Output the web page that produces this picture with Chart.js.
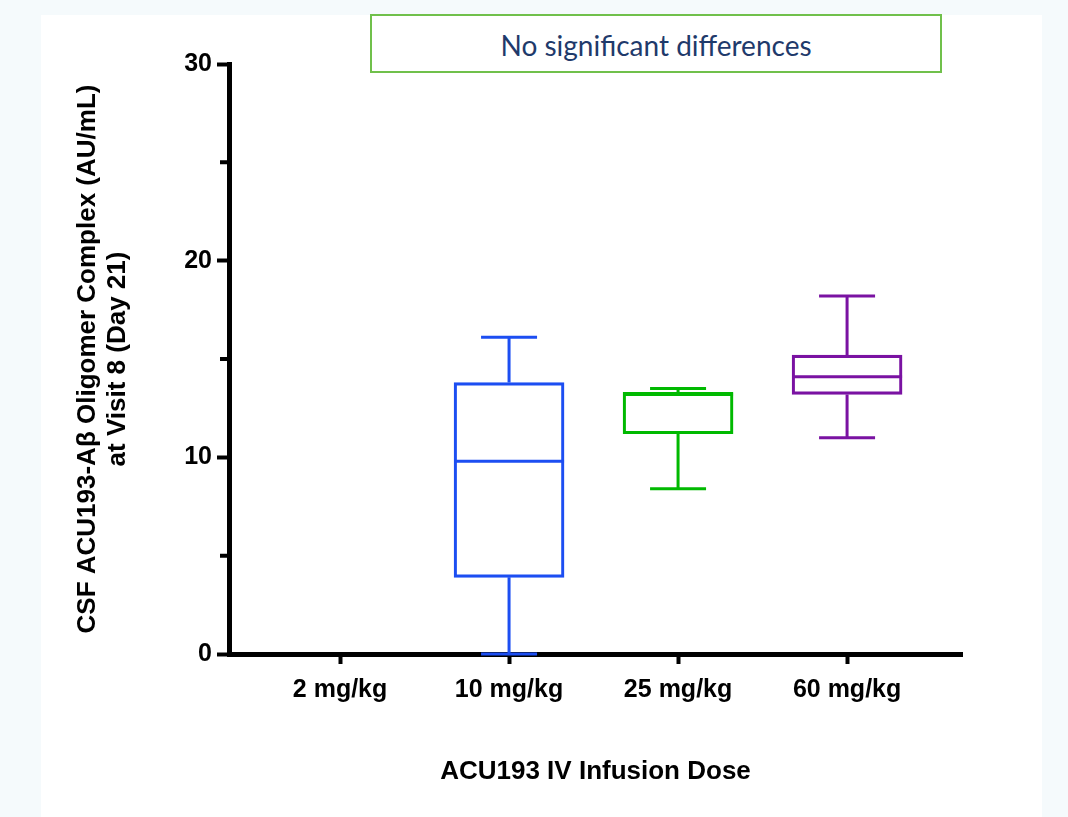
<!DOCTYPE html>
<html>
<head>
    <meta charset="UTF-8">
    <title>CSF ACU193-Aβ Oligomer Complex</title>
    <script src="https://cdn.jsdelivr.net/npm/chart.js@4.4.1/dist/chart.umd.min.js"></script>
    <style type="text/css">
        html, body { margin: 0; padding: 0; }
        body { background: #f5fafc; width: 1068px; height: 817px; position: relative; overflow: hidden; }
        #panel { position: absolute; left: 41px; top: 15px; width: 1001px; height: 802px; background: #ffffff; }
        #chartBox { position: absolute; left: 0; top: 0; width: 1068px; height: 817px; }
        #note {
            position: absolute; left: 370px; top: 14px; width: 568px; height: 55px;
            border: 2px solid #70c04b; background: #ffffff;
            font-family: Lato, "Open Sans", sans-serif; font-size: 28px; color: #1f3a6b;
            text-align: center; line-height: 58px;
        }
    </style>
</head>
<body>
<div id="panel"></div>
<div id="chartBox"><canvas id="boxChart" width="1068" height="817"></canvas></div>
<div id="note">No significant differences</div>

<script>
    // groups on the x axis
    const doses = ['2 mg/kg', '10 mg/kg', '25 mg/kg', '60 mg/kg'];
    // box plot values (no data for 2 mg/kg)
    const mins    = [null, 0.0,  8.4,  11.0];
    const q1s     = [null, 3.9,  11.2, 13.2];
    const medians = [null, 9.8,  13.2, 14.1];
    const q3s     = [null, 13.8, 13.3, 15.2];
    const maxs    = [null, 16.1, 13.5, 18.2];
    const colors  = ['#1c4ef2', '#1c4ef2', '#00b900', '#7a12a2'];

    const yTicks = [0, 5, 10, 15, 20, 25, 30];

    const boxData = doses
        .map((d, i) => q1s[i] == null ? null : { x: i + 1, y: [q1s[i], q3s[i]] })
        .filter(p => p !== null);

    // whiskers, caps, medians and the short minor y ticks, placed with the chart's own scales
    const whiskerPlugin = {
        id: 'whiskers',
        afterDatasetsDraw(chart) {
            const ctx = chart.ctx;
            const xs = chart.scales.x;
            const ys = chart.scales.y;
            const boxHalf = 55;
            const capHalf = 28;
            ctx.save();
            ctx.lineCap = 'butt';
            doses.forEach((d, i) => {
                if (mins[i] == null) return;
                const cx = xs.getPixelForValue(i + 1);
                ctx.strokeStyle = colors[i];
                ctx.lineWidth = 3;
                ctx.beginPath();
                ctx.moveTo(cx, ys.getPixelForValue(q3s[i]));
                ctx.lineTo(cx, ys.getPixelForValue(maxs[i]));
                ctx.moveTo(cx, ys.getPixelForValue(q1s[i]));
                ctx.lineTo(cx, ys.getPixelForValue(mins[i]));
                ctx.moveTo(cx - capHalf, ys.getPixelForValue(maxs[i]));
                ctx.lineTo(cx + capHalf, ys.getPixelForValue(maxs[i]));
                ctx.moveTo(cx - capHalf, ys.getPixelForValue(mins[i]));
                ctx.lineTo(cx + capHalf, ys.getPixelForValue(mins[i]));
                ctx.moveTo(cx - boxHalf, ys.getPixelForValue(medians[i]));
                ctx.lineTo(cx + boxHalf, ys.getPixelForValue(medians[i]));
                ctx.stroke();
            });
            // minor ticks are shorter than the labelled ones
            ctx.strokeStyle = '#000';
            ctx.lineWidth = 4;
            ctx.beginPath();
            yTicks.filter(v => v % 10 !== 0).forEach(v => {
                const py = ys.getPixelForValue(v);
                ctx.moveTo(ys.right - 9, py);
                ctx.lineTo(ys.right, py);
            });
            ctx.stroke();
            ctx.restore();
        }
    };

    const axisFont = { family: 'Liberation Sans, Arial, sans-serif', size: 25, weight: 'bold' };
    const titleFont = { family: 'Liberation Sans, Arial, sans-serif', size: 26, weight: 'bold', lineHeight: 1.15 };

    new Chart(document.getElementById('boxChart').getContext('2d'), {
        type: 'bar',
        data: {
            datasets: [{
                label: 'IQR',
                data: boxData,
                backgroundColor: 'rgba(255,255,255,0)',
                borderColor: c => colors[c.raw.x - 1],
                borderWidth: 2.5,
                borderSkipped: false,
                barThickness: 110
            }]
        },
        options: {
            responsive: false,
            animation: false,
            layout: { padding: { left: 73, top: 64, right: 106, bottom: 30 } },
            plugins: {
                legend: { display: false },
                tooltip: { enabled: false }
            },
            scales: {
                x: {
                    type: 'linear',
                    min: 0.343,
                    max: 4.68,
                    offset: false,
                    afterBuildTicks: s => { s.ticks = doses.map((d, i) => ({ value: i + 1 })); },
                    afterFit: s => { s.height = 133; },
                    ticks: {
                        callback: v => doses[v - 1],
                        color: '#000',
                        font: axisFont,
                        padding: 11,
                        maxRotation: 0
                    },
                    grid: { offset: false, drawOnChartArea: false, tickLength: 10, tickWidth: 4, tickColor: '#000' },
                    border: { color: '#000', width: 5 },
                    title: {
                        display: true,
                        text: 'ACU193 IV Infusion Dose',
                        color: '#000',
                        font: titleFont,
                        padding: { top: 0, bottom: 0 }
                    }
                },
                y: {
                    min: 0,
                    max: 30,
                    afterBuildTicks: s => { s.ticks = yTicks.map(v => ({ value: v })); },
                    afterFit: s => { s.width = 156; },
                    ticks: {
                        callback: v => v % 10 === 0 ? v : '',
                        color: '#000',
                        font: axisFont,
                        padding: 5
                    },
                    grid: {
                        drawOnChartArea: false, tickLength: 12, tickWidth: 4,
                        tickColor: c => c.tick && c.tick.value % 10 === 0 ? '#000' : 'rgba(0,0,0,0)'
                    },
                    border: { color: '#000', width: 5 },
                    title: {
                        display: true,
                        text: ['CSF ACU193-Aβ Oligomer Complex (AU/mL)', 'at Visit 8 (Day 21)'],
                        color: '#000',
                        font: titleFont,
                        padding: { top: 0, bottom: 0 }
                    }
                }
            }
        },
        plugins: [whiskerPlugin]
    });
</script>

</body>
</html>
